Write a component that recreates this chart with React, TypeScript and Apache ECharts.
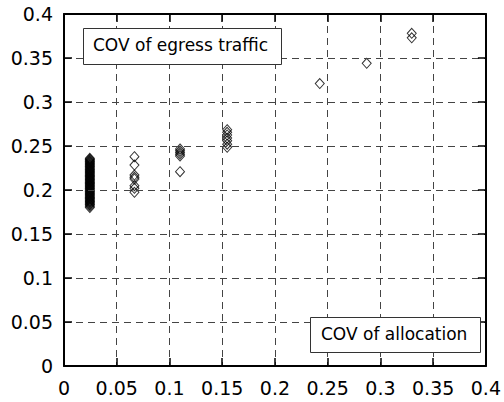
import React, { useEffect, useRef } from "react";
import * as echarts from "echarts";

const xTicks = [0, 0.05, 0.1, 0.15, 0.2, 0.25, 0.3, 0.35, 0.4];
const yTicks = [0, 0.05, 0.1, 0.15, 0.2, 0.25, 0.3, 0.35, 0.4];

const group1X = 0.0245;
const group1Y = [
  0.1800, 0.1815, 0.1830, 0.1838, 0.1850, 0.1861, 0.1870, 0.1879, 0.1890, 0.1901,
  0.1910, 0.1919, 0.1930, 0.1940, 0.1949, 0.1960, 0.1969, 0.1980, 0.1990, 0.1999,
  0.2010, 0.2019, 0.2030, 0.2040, 0.2050, 0.2059, 0.2070, 0.2080, 0.2089, 0.2100,
  0.2110, 0.2120, 0.2129, 0.2140, 0.2150, 0.2160, 0.2169, 0.2180, 0.2190, 0.2200,
  0.2209, 0.2220, 0.2230, 0.2240, 0.2249, 0.2260, 0.2270, 0.2280, 0.2289, 0.2300,
  0.2310, 0.2320, 0.2329, 0.2340, 0.2350, 0.2360,
];
const group2X = 0.0668;
const group2Y = [0.2378, 0.2284, 0.217, 0.2144, 0.2125, 0.2049, 0.2019, 0.1974];
const group3X = 0.110;
const group3Y = [0.2466, 0.2445, 0.2425, 0.2405, 0.2385, 0.2208];
const group4X = 0.1547;
const group4Y = [0.2685, 0.2655, 0.2625, 0.259, 0.256, 0.252, 0.2485];
const outlierX = [0.2425, 0.287, 0.3297, 0.3297];
const outlierY = [0.321, 0.344, 0.378, 0.373];

const legendTop = "COV of egress traffic";
const legendBottom = "COV of allocation";

const FONT = '"DejaVu Sans", "Liberation Sans", Arial, sans-serif';

function buildData(): number[][] {
  const d: number[][] = [];
  group1Y.forEach((y) => d.push([group1X, y]));
  group2Y.forEach((y) => d.push([group2X, y]));
  group3Y.forEach((y) => d.push([group3X, y]));
  group4Y.forEach((y) => d.push([group4X, y]));
  outlierX.forEach((x, i) => d.push([x, outlierY[i]]));
  return d;
}

export default function App() {
  const ref = useRef<HTMLDivElement>(null);
  useEffect(() => {
    if (!ref.current) return;
    const chart = echarts.init(ref.current, null, { renderer: "svg" });
    const axisLine = { show: true, onZero: false, lineStyle: { color: "#000", width: 2 } };
    const tick = { show: true, inside: true, length: 8, lineStyle: { color: "#000", width: 1.5 } };
    const split = {
      show: true,
      showMinLine: false,
      showMaxLine: false,
      lineStyle: { color: "#444", width: 1, type: [7, 5] as any },
    };
    const baseX = {
      type: "value" as const,
      min: xTicks[0],
      max: xTicks[xTicks.length - 1],
      interval: 0.05,
    };
    const baseY = {
      type: "value" as const,
      min: yTicks[0],
      max: yTicks[yTicks.length - 1],
      interval: 0.05,
    };
    chart.setOption({
      animation: false,
      backgroundColor: "#fff",
      grid: { left: 64, right: 15, top: 14, bottom: 36, containLabel: false },
      xAxis: [
        {
          ...baseX,
          position: "bottom",
          z: 10,
          axisLine,
          axisTick: tick,
          splitLine: split,
          axisLabel: { color: "#000", fontSize: 19, fontFamily: FONT, margin: 12 },
        },
        {
          ...baseX,
          position: "top",
          z: 10,
          axisLine,
          axisTick: tick,
          splitLine: { show: false },
          axisLabel: { show: false },
        },
      ],
      yAxis: [
        {
          ...baseY,
          position: "left",
          z: 10,
          axisLine,
          axisTick: tick,
          splitLine: split,
          axisLabel: { color: "#000", fontSize: 19, fontFamily: FONT, margin: 11 },
        },
        {
          ...baseY,
          position: "right",
          z: 10,
          axisLine,
          axisTick: tick,
          splitLine: { show: false },
          axisLabel: { show: false },
        },
      ],
      series: [
        {
          type: "scatter",
          xAxisIndex: 0,
          yAxisIndex: 0,
          symbol: "diamond",
          symbolSize: [9, 10],
          itemStyle: { color: "rgba(0,0,0,0)", borderColor: "#000", borderWidth: 1 },
          data: buildData(),
          z: 5,
        },
      ],
      graphic: [
        {
          type: "rect",
          left: 83,
          top: 28,
          z: 100,
          shape: { x: 0, y: 0, width: 198, height: 36 },
          style: { fill: "#fff", stroke: "#333", lineWidth: 1 },
        },
        {
          type: "text",
          left: 93,
          top: 36,
          z: 101,
          style: {
            text: legendTop,
            fontSize: 17,
            fontFamily: FONT,
            fill: "#000",
          },
        },
        {
          type: "rect",
          left: 310,
          top: 317,
          z: 100,
          shape: { x: 0, y: 0, width: 170, height: 35 },
          style: { fill: "#fff", stroke: "#333", lineWidth: 1 },
        },
        {
          type: "text",
          left: 321,
          top: 325,
          z: 101,
          style: {
            text: legendBottom,
            fontSize: 17,
            fontFamily: FONT,
            fill: "#000",
          },
        },
      ],
    });
    return () => chart.dispose();
  }, []);
  return (
    <div
      ref={ref}
      style={{ position: "fixed", left: 0, top: 0, width: 504, height: 402, background: "#fff" }}
    />
  );
}
